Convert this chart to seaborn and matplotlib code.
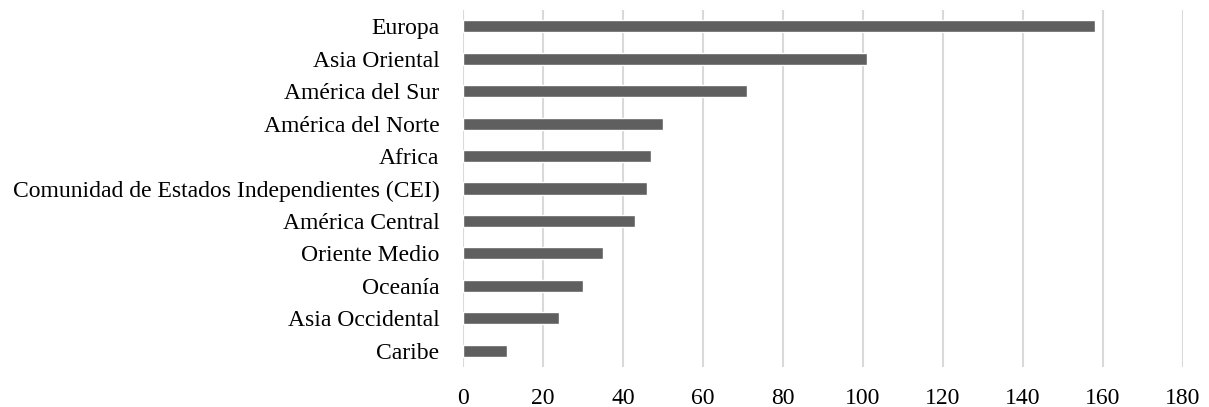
import pandas as pd
import numpy as np
import seaborn as sns
import matplotlib.pyplot as plt

## Data
regions = ["Europa", "Asia Oriental", "América del Sur", "América del Norte", "Africa",
           "Comunidad de Estados Independientes (CEI)", "América Central", "Oriente Medio",
           "Oceanía", "Asia Occidental", "Caribe"]
values = [158, 101, 71, 50, 47, 46, 43, 35, 30, 24, 11]
xticks = [0, 20, 40, 60, 80, 100, 120, 140, 160, 180]

df = pd.DataFrame({"region": regions, "valor": values})

sns.set_theme(style="white")
plt.rcParams["font.family"] = ["Liberation Serif", "DejaVu Serif"]

fig = plt.figure(figsize=(12.09, 4.07), dpi=100)
ax = fig.add_axes([0.383, 0.0983, 0.5955, 0.8771])

sns.barplot(data=df, x="valor", y="region", color="#5f5f5f", width=0.37,
            saturation=1, ax=ax, zorder=3)

ax.set_xlim(0, 180)
ax.set_ylim(10.5, -0.5)
ax.set_xticks(xticks)
ax.xaxis.grid(True, color="#d9d9d9", linewidth=1.5, zorder=0)
ax.yaxis.grid(False)
for s in ax.spines.values():
    s.set_visible(False)
ax.tick_params(axis="y", length=0, pad=17, labelsize=17, labelcolor="#000000")
ax.tick_params(axis="x", length=0, pad=15, labelsize=17, labelcolor="#000000")
ax.set_xlabel("")
ax.set_ylabel("")

plt.savefig("out.png", dpi=100)
